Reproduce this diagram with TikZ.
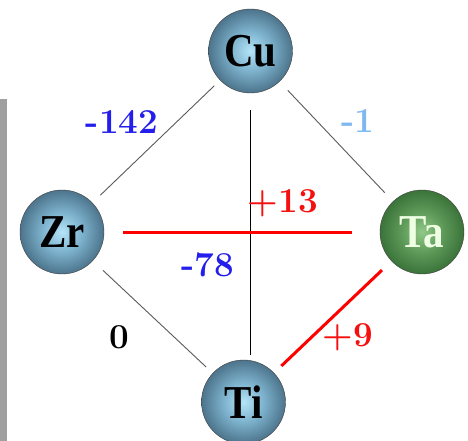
\documentclass[tikz,border=0pt]{standalone}
\usepackage{fontspec}
\usepackage{graphicx}
\newfontfamily\atomfont{Liberation Serif}
\definecolor{cuin}{RGB}{180,228,248}
\definecolor{cumid}{RGB}{125,178,205}
\definecolor{cuout}{RGB}{58,92,115}
\definecolor{cuedge}{RGB}{20,36,50}
\definecolor{tain}{RGB}{145,200,135}
\definecolor{tamid}{RGB}{95,155,90}
\definecolor{taout}{RGB}{45,100,45}
\definecolor{taedge}{RGB}{18,55,20}
\definecolor{valblue}{RGB}{35,30,235}
\definecolor{valsky}{RGB}{125,185,240}
\definecolor{valred}{RGB}{245,15,15}
\definecolor{tatext}{RGB}{238,255,228}
\pgfdeclareradialshading{cuball}{\pgfpoint{0bp}{0bp}}{color(0bp)=(cuin); color(12bp)=(cumid); color(30bp)=(cuout); color(50bp)=(cuedge)}
\pgfdeclareradialshading{taball}{\pgfpoint{0bp}{0bp}}{color(0bp)=(tain); color(12bp)=(tamid); color(30bp)=(taout); color(50bp)=(taedge)}
\newcommand{\atomname}[1]{\scalebox{1}[1.15]{\atomfont\bfseries\fontsize{41}{42}\selectfont #1}}

\begin{document}
\begin{tikzpicture}[x=1pt, y=-1pt, atom/.style={circle, draw=black!75, line width=0.4pt, minimum size=84pt, inner sep=0pt, shading=cuball}, taatom/.style={atom, shading=taball, text=tatext}, bond/.style={draw=black!65, line width=0.9pt}, redbond/.style={draw=red, line width=3pt}, val/.style={font=\fontsize{35}{37}\selectfont\bfseries}]
	\useasboundingbox (0,0) rectangle (468,441);
	\fill[gray!75] (0,99) rectangle (7,441);
	\node[atom] (Cu) at (250.5,51) {\atomname{Cu}};
	\node[atom] (Zr) at (62,232) {\atomname{Zr}};
	\node[taatom] (Ta) at (422,232) {\atomname{Ta}};
	\node[atom] (Ti) at (243.5,402) {\atomname{Ti}};
	\draw[bond, shorten <=11pt, shorten >=8pt] (Zr) -- (Cu);
	\draw[bond, shorten <=12pt, shorten >=12pt] (Cu) -- (Ta);
	\draw[bond, shorten <=14pt, shorten >=9pt] (Zr) -- (Ti);
	\draw[black, line width=1.1pt, shorten <=17pt, shorten >=5pt] (Cu.south) -- (Cu.south |- Ti.north);
	\draw[redbond, shorten <=19pt, shorten >=28pt] (Zr) -- (Ta);
	\draw[redbond, shorten <=13pt, shorten >=10pt] (Ta) -- (Ti);
	\node[val, text=valblue] (vZrCu) at (122,122) {-142};
	\node[val, text=valsky] (vCuTa) at (358,121) {-1};
	\node[val, text=valred] (vZrTa) at (283,203) {+13};
	\node[val, text=valblue] (vCuTi) at (208,265) {-78};
	\node[val, text=black] (vZrTi) at (119,337) {0};
	\node[val, text=valred] (vTaTi) at (348,337) {+9};
\end{tikzpicture}
\end{document}
